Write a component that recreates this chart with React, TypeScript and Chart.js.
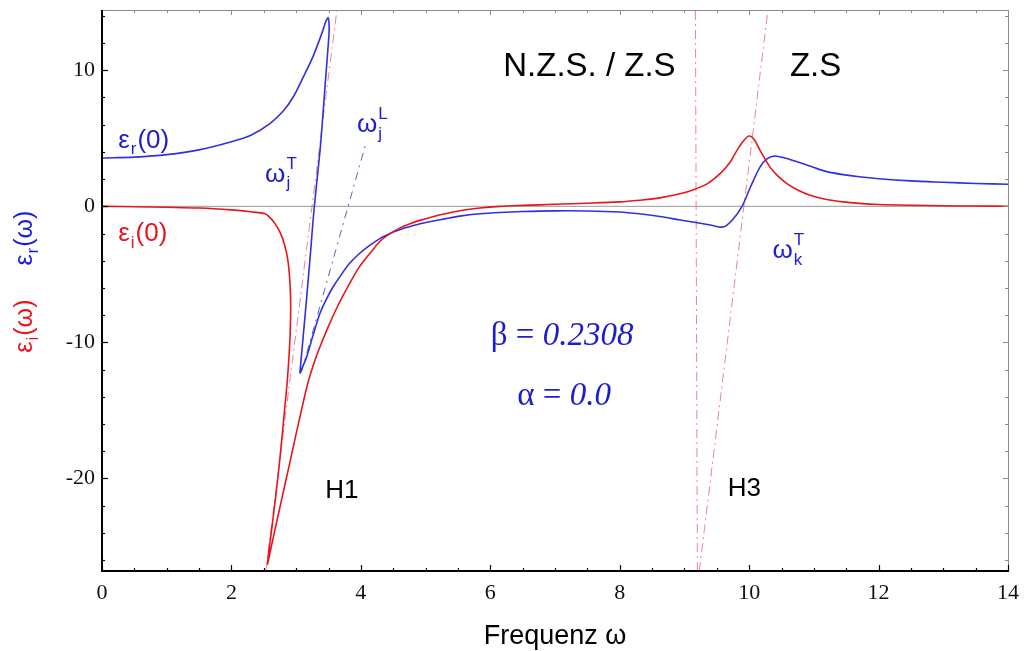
import React, { useEffect, useRef } from 'react';
import { Chart, registerables } from 'chart.js';

Chart.register(...registerables);

// ---- data ----
const xTicks = [0, 2, 4, 6, 8, 10, 12, 14];
const yTicks = [-20, -10, 0, 10];
const xMin = 0;
const xMax = 14;
const yMin = -26.8;
const yMax = 14.43;

// epsilon_i (red), parametric order
const epsIOmega = [
  0, 0.5, 1.0, 1.5, 2.0, 2.3, 2.52, 2.6, 2.67, 2.75, 2.82, 2.87, 2.9, 2.915, 2.91, 2.89, 2.86, 2.81,
  2.75, 2.68, 2.61, 2.555, 2.65, 2.74, 2.83, 2.92, 3.01, 3.1, 3.18, 3.27, 3.37, 3.5, 3.65, 3.8, 3.97,
  4.15, 4.3, 4.45, 4.6, 4.75, 4.9, 5.1, 5.3, 5.53, 5.84, 6.15, 6.5, 7.0, 7.5, 8.0, 8.3, 8.62, 8.93,
  9.13, 9.35, 9.55, 9.7, 9.81, 9.92, 10.0, 10.08, 10.17, 10.32, 10.45, 10.59, 10.75, 10.94, 11.2,
  11.45, 11.7, 12, 12.5, 13, 13.5, 14,
];
const epsIValues = [
  0, -0.03, -0.07, -0.12, -0.26, -0.4, -0.55, -0.85, -1.25, -1.9, -2.8, -3.9, -5.3, -7, -9, -11, -13,
  -15.5, -18.5, -21.5, -24.2, -26.3, -24.26, -22.32, -20.39, -18.45, -16.5, -14.6, -13.0, -11.6,
  -10.3, -8.8, -7.25, -5.9, -4.5, -3.4, -2.55, -2.0, -1.6, -1.3, -1.05, -0.78, -0.55, -0.32, -0.12,
  0.0, 0.07, 0.15, 0.23, 0.33, 0.45, 0.62, 0.92, 1.2, 1.65, 2.4, 3.2, 4.1, 4.85, 5.17, 4.9, 4.1, 2.9,
  2.2, 1.65, 1.2, 0.82, 0.5, 0.33, 0.22, 0.14, 0.08, 0.04, 0.02, 0.01,
];

// epsilon_r (blue), parametric order
const epsROmega = [
  0, 0.5, 1.0, 1.5, 2.0, 2.3, 2.6, 2.8, 2.95, 3.11, 3.26, 3.4, 3.46, 3.495, 3.51, 3.49, 3.45, 3.41,
  3.37, 3.28, 3.22, 3.16, 3.11, 3.07, 3.06, 3.09, 3.16, 3.26, 3.37, 3.47, 3.57, 3.7, 3.83, 3.97, 4.1,
  4.3, 4.45, 4.6, 4.75, 4.9, 5.1, 5.3, 5.53, 5.84, 6.15, 6.5, 7.0, 7.5, 8.0, 8.3, 8.62, 8.93, 9.13,
  9.4, 9.6, 9.74, 9.89, 10.02, 10.17, 10.28, 10.4, 10.55, 10.79, 11.0, 11.2, 11.45, 11.7, 12, 12.5,
  13, 13.5, 14,
];
const epsRValues = [
  3.55, 3.62, 3.8, 4.15, 4.75, 5.22, 6.1, 7.0, 8.0, 9.5, 11.0, 12.75, 13.6, 13.85, 13.0, 11.5, 9.06,
  6.5, 4.13, -0.05, -3.5, -6.86, -9.5, -11.6, -12.25, -11.9, -11.1, -9.5, -7.84, -6.8, -5.93, -5.0,
  -4.17, -3.5, -2.99, -2.35, -2.0, -1.72, -1.5, -1.3, -1.1, -0.92, -0.72, -0.55, -0.45, -0.38, -0.33,
  -0.34, -0.42, -0.55, -0.75, -1.0, -1.15, -1.37, -1.52, -1.0, 0, 1.42, 2.9, 3.5, 3.7, 3.55, 3.2,
  2.85, 2.55, 2.33, 2.17, 2.03, 1.87, 1.77, 1.68, 1.62,
];

// guide lines
const zeroOmega = [0, 14];
const zeroValues = [0, 0];
const h1Omega = [2.53, 3.63];
const h1Values = [-26.8, 14.43];
const wjLOmega = [3.08, 4.07];
const wjLValues = [-12.2, 4.5];
const h3aOmega = [9.2, 9.17];
const h3aValues = [-26.8, 14.43];
const h3bOmega = [9.23, 10.29];
const h3bValues = [-26.8, 14.43];

const toPts = (xs: number[], ys: number[]) => xs.map((x, i) => ({ x, y: ys[i] }));

const RED = '#e8141e';
const BLUE = '#3030e0';
const BLUE_TXT = '#1c1cd0';
const PINK = 'rgba(232,90,110,0.75)';
const SANS = '"Liberation Sans", Arial, sans-serif';
const SERIF = '"Liberation Serif", "Times New Roman", serif';

function scriptText(
  ctx: CanvasRenderingContext2D,
  x: number,
  y: number,
  parts: { t: string; sub?: string; sup?: string }[],
  size: number,
  color: string,
) {
  ctx.fillStyle = color;
  ctx.textAlign = 'left';
  ctx.textBaseline = 'alphabetic';
  let cx = x;
  const small = Math.round(size * 0.66);
  for (const p of parts) {
    ctx.font = `${size}px ${SANS}`;
    ctx.fillText(p.t, cx, y);
    cx += ctx.measureText(p.t).width;
    let w = 0;
    ctx.font = `${small}px ${SANS}`;
    if (p.sup) {
      ctx.fillText(p.sup, cx + 1, y - size * 0.5);
      w = Math.max(w, ctx.measureText(p.sup).width);
    }
    if (p.sub) {
      ctx.fillText(p.sub, cx + 1, y + size * 0.25);
      w = Math.max(w, ctx.measureText(p.sub).width);
    }
    cx += w ? w + 2 : 0;
  }
  return cx - x;
}

const decorPlugin = {
  id: 'decor',
  afterDatasetsDraw(chart: any) {
    const ctx: CanvasRenderingContext2D = chart.ctx;
    const { left, right, top, bottom } = chart.chartArea;
    const xs = chart.scales.x;
    const ys = chart.scales.y;
    const px = (v: number) => xs.getPixelForValue(v);
    const py = (v: number) => ys.getPixelForValue(v);
    ctx.save();

    // frame
    ctx.strokeStyle = '#8a8a8a';
    ctx.lineWidth = 1;
    ctx.beginPath();
    ctx.moveTo(left, top + 0.5);
    ctx.lineTo(right + 0.5, top + 0.5);
    ctx.lineTo(right + 0.5, bottom);
    ctx.stroke();
    for (let v = 0; v <= 14.001; v += 0.5) {
      const x = Math.round(px(v)) + 0.5;
      const major = Math.abs(v / 2 - Math.round(v / 2)) < 1e-6;
      ctx.beginPath();
      ctx.moveTo(x, top);
      ctx.lineTo(x, top + (major ? 5 : 3));
      ctx.stroke();
    }
    for (let v = -26; v <= 14.001; v += 2) {
      const y = Math.round(py(v)) + 0.5;
      const major = Math.abs(v / 10 - Math.round(v / 10)) < 1e-6;
      ctx.beginPath();
      ctx.moveTo(right, y);
      ctx.lineTo(right - (major ? 5 : 3), y);
      ctx.stroke();
    }
    // bottom & left axis
    ctx.strokeStyle = '#000';
    ctx.lineWidth = 2;
    ctx.beginPath();
    ctx.moveTo(left, top);
    ctx.lineTo(left, bottom);
    ctx.lineTo(right + 1, bottom);
    ctx.stroke();
    ctx.lineWidth = 1.2;
    for (let v = 0; v <= 14.001; v += 0.5) {
      const x = Math.round(px(v)) + 0.5;
      const major = Math.abs(v / 2 - Math.round(v / 2)) < 1e-6;
      ctx.beginPath();
      ctx.moveTo(x, bottom);
      ctx.lineTo(x, bottom - (major ? 6 : 3));
      ctx.stroke();
    }
    for (let v = -26; v <= 14.001; v += 2) {
      const y = Math.round(py(v)) + 0.5;
      const major = Math.abs(v / 10 - Math.round(v / 10)) < 1e-6;
      ctx.beginPath();
      ctx.moveTo(left, y);
      ctx.lineTo(left + (major ? 6 : 3), y);
      ctx.stroke();
    }

    // annotations
    scriptText(ctx, px(0.25), py(4.29), [{ t: 'ε', sub: 'r' }, { t: '(0)' }], 26, BLUE_TXT);
    scriptText(ctx, px(0.25), py(-2.55), [{ t: 'ε', sub: 'i' }, { t: '(0)' }], 26, RED);
    scriptText(ctx, px(2.52), py(1.79), [{ t: 'ω', sub: 'j', sup: 'T' }], 26, BLUE_TXT);
    scriptText(ctx, px(3.94), py(5.46), [{ t: 'ω', sub: 'j', sup: 'L' }], 26, BLUE_TXT);
    scriptText(ctx, px(10.36), py(-3.8), [{ t: 'ω', sub: 'k', sup: 'T' }], 26, BLUE_TXT);

    ctx.fillStyle = '#000';
    ctx.font = `33px ${SANS}`;
    ctx.textAlign = 'left';
    ctx.fillText('N.Z.S. / Z.S', px(6.2), py(9.57));
    ctx.fillText('Z.S', px(10.63), py(9.57));
    ctx.font = `26px ${SANS}`;
    ctx.fillText('H1', px(3.45), py(-21.4));
    ctx.fillText('H3', px(9.67), py(-21.3));

    // beta / alpha
    const drawParam = (sym: string, val: string, cx: number, by: number) => {
      ctx.fillStyle = BLUE_TXT;
      ctx.font = `33px ${SERIF}`;
      const a = sym + ' = ';
      const wa = ctx.measureText(a).width;
      ctx.font = `italic 33px ${SERIF}`;
      const wb = ctx.measureText(val).width;
      const x0 = cx - (wa + wb) / 2;
      ctx.font = `33px ${SERIF}`;
      ctx.fillText(a, x0, by);
      ctx.font = `italic 33px ${SERIF}`;
      ctx.fillText(val, x0 + wa, by);
    };
    drawParam('β', '0.2308', px(7.11), py(-10.2));
    drawParam('α', '0.0', px(7.14), py(-14.6));

    // axis titles
    ctx.fillStyle = '#000';
    ctx.font = `27px ${SANS}`;
    ctx.textAlign = 'center';
    ctx.fillText('Frequenz ω', (left + right) / 2, chart.height - 7);

    const rotated = (parts: { t: string; sub?: string }[], cy: number, color: string) => {
      ctx.save();
      ctx.translate(32, cy);
      ctx.rotate(-Math.PI / 2);
      let w = 0;
      for (const p of parts) {
        ctx.font = `25px ${SANS}`;
        w += ctx.measureText(p.t).width;
        if (p.sub) {
          ctx.font = `17px ${SANS}`;
          w += ctx.measureText(p.sub).width + 2;
        }
      }
      scriptText(ctx, -w / 2, 0, parts, 25, color);
      ctx.restore();
    };
    rotated([{ t: 'ε', sub: 'r' }, { t: '(ω)' }], py(-2.33), BLUE_TXT);
    rotated([{ t: 'ε', sub: 'i' }, { t: '(ω)' }], py(-8.8), RED);

    ctx.restore();
  },
};

export default function App() {
  const ref = useRef<HTMLCanvasElement | null>(null);
  useEffect(() => {
    if (!ref.current) return;
    const lineDs = (data: any[], color: string, width: number, dash: number[] = [], tension = 0) => ({
      data,
      showLine: true,
      borderColor: color,
      borderWidth: width,
      borderDash: dash,
      pointRadius: 0,
      tension,
      fill: false,
    });
    const chart = new Chart(ref.current, {
      type: 'scatter',
      data: {
        datasets: [
          lineDs(toPts(epsIOmega, epsIValues), RED, 1.6, [], 0.3),
          lineDs(toPts(epsROmega, epsRValues), BLUE, 1.6, [], 0.3),
          lineDs(toPts(h1Omega, h1Values), PINK, 1, [9, 4, 2, 4]),
          lineDs(toPts(wjLOmega, wjLValues), 'rgba(70,70,170,0.85)', 1, [8, 5, 2, 5]),
          lineDs(toPts(h3aOmega, h3aValues), PINK, 1, [9, 4, 2, 4]),
          lineDs(toPts(h3bOmega, h3bValues), PINK, 1, [9, 4, 2, 4]),
          lineDs(toPts(zeroOmega, zeroValues), '#9a9a9a', 1),
        ],
      },
      options: {
        animation: false,
        responsive: false,
        maintainAspectRatio: false,
        layout: { padding: { top: 10, right: 16, left: 0, bottom: 0 } },
        plugins: { legend: { display: false }, tooltip: { enabled: false } },
        scales: {
          x: {
            type: 'linear',
            min: xMin,
            max: xMax,
            grid: { display: false, drawTicks: false },
            border: { display: false },
            afterBuildTicks: (s: any) => {
              s.ticks = xTicks.map((v) => ({ value: v }));
            },
            afterFit: (s: any) => {
              s.height = 80;
              s.paddingLeft = 0;
              s.paddingRight = 0;
            },
            ticks: {
              padding: 9,
              color: '#111',
              font: { family: SERIF, size: 22 },
              maxRotation: 0,
              callback: (v: any) => String(v),
            },
          },
          y: {
            type: 'linear',
            min: yMin,
            max: yMax,
            grid: { display: false, drawTicks: false },
            border: { display: false },
            afterBuildTicks: (s: any) => {
              s.ticks = yTicks.map((v) => ({ value: v }));
            },
            afterFit: (s: any) => {
              s.width = 102;
              s.paddingTop = 0;
              s.paddingBottom = 0;
            },
            ticks: {
              padding: 7,
              color: '#111',
              font: { family: SERIF, size: 22 },
              callback: (v: any) => String(v),
            },
          },
        },
      },
      plugins: [decorPlugin],
    } as any);
    return () => chart.destroy();
  }, []);
  return (
    <div style={{ position: 'fixed', left: 0, top: 0, width: 1024, height: 651, background: '#fff' }}>
      <canvas ref={ref} width={1024} height={651} style={{ width: 1024, height: 651, display: 'block' }} />
    </div>
  );
}
